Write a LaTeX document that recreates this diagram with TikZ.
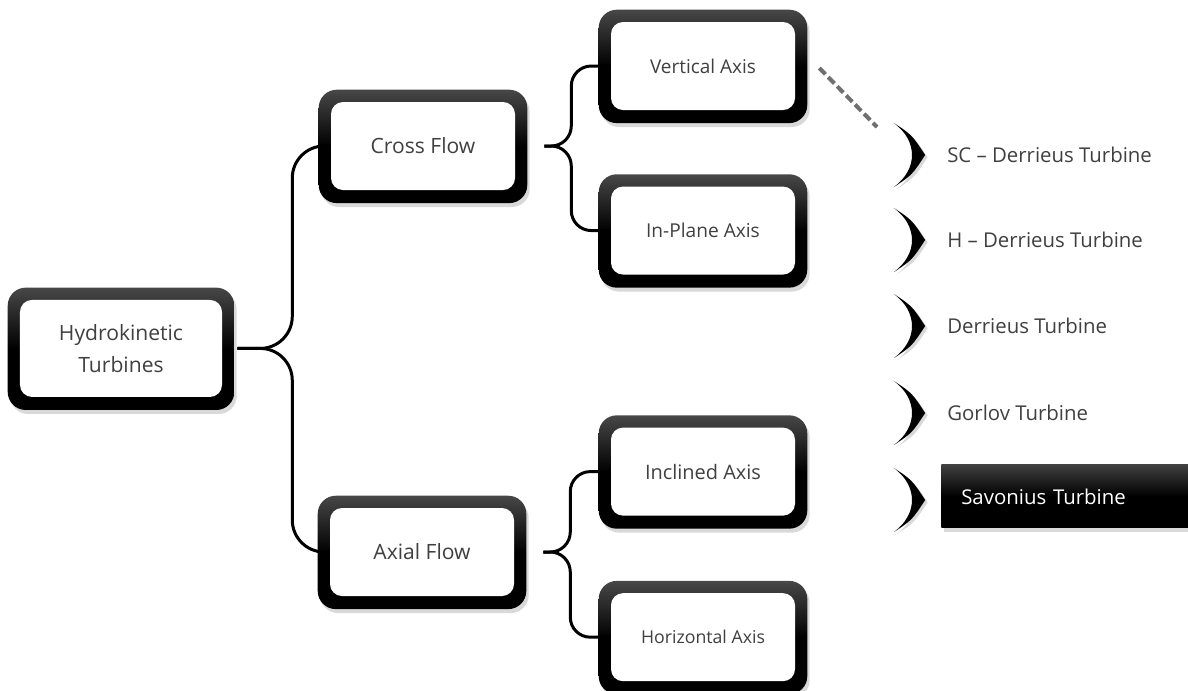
\documentclass[tikz,border=0pt]{standalone}
\usepackage{fontspec}
\setmainfont{Open Sans}
\usetikzlibrary{positioning, calc, shadows, backgrounds}
\definecolor{abuTeks}{RGB}{64,64,64}
\definecolor{abuPutus}{RGB}{112,112,112}

\begin{document}
\begin{tikzpicture}[
  kotakTurbin/.style={fill=white, rounded corners=0.3cm, minimum width=4.6cm,
    minimum height=2.2cm, inner sep=0pt, align=center, text=abuTeks},
  bingkai/.style={rounded corners=0.45cm, top color=black!72, bottom color=black,
    middle color=black, drop shadow={opacity=0.3, shadow xshift=0.06cm, shadow yshift=-0.1cm}},
  kurung/.style={draw, line width=0.075cm},
  garisPutus/.style={draw=abuPutus, line width=0.1cm, dash pattern=on 0.22cm off 0.1cm},
  jenis/.style={anchor=west, inner sep=0pt, text=abuTeks, font=\fontsize{14.5}{17}\selectfont},
  chevron/.pic={
    \fill[black, drop shadow={opacity=0.3, shadow xshift=0.06cm, shadow yshift=-0.06cm}]
      (0,0.8) .. controls (0.45,0.5) .. (0.78,0)
      .. controls (0.45,-0.5) .. (0,-0.8)
      .. controls (0.6,-0.35) and (0.6,0.35) .. cycle;
  }
]
  \useasboundingbox (0,0) rectangle (29.7,-17.25);

  \node[kotakTurbin, minimum width=5.05cm, minimum height=2.425cm,
    font=\fontsize{15}{23}\selectfont] (hkt) at (3.025,-8.71) {Hydrokinetic\\Turbines};
  \node[kotakTurbin, font=\fontsize{15}{18}\selectfont] (cf) at (10.575,-3.65) {Cross Flow};
  \node[kotakTurbin, font=\fontsize{15}{18}\selectfont] (af) at (10.55,-13.8) {Axial Flow};
  \node[kotakTurbin, font=\fontsize{13.5}{16}\selectfont] (va) at (17.575,-1.65) {Vertical Axis};
  \node[kotakTurbin, font=\fontsize{13.6}{16}\selectfont, below=1.9cm of va] (ipa) {In-Plane Axis};
  \node[kotakTurbin, font=\fontsize{14.2}{17}\selectfont] (ia) at (17.575,-11.79) {Inclined Axis};
  \node[kotakTurbin, font=\fontsize{12.6}{15}\selectfont, below=1.925cm of ia] (ha) {Horizontal Axis};

  \begin{scope}[on background layer]
    \foreach \n in {hkt,cf,af,va,ipa,ia,ha}
      \shade[bingkai] ([shift={(-0.3cm,-0.32cm)}]\n.south west) rectangle ([shift={(0.3cm,0.3cm)}]\n.north east);
  \end{scope}

  \draw[kurung, rounded corners=0.8cm] (cf.west) -| ([xshift=1.75cm]hkt.east) -- ([xshift=0.375cm]hkt.east);
  \draw[kurung, rounded corners=0.8cm] (af.west) -| ([xshift=1.75cm]hkt.east) -- ([xshift=0.375cm]hkt.east);
  \draw[kurung, rounded corners=0.5cm] (va.west) -| ([xshift=1.4cm]cf.east) -- ([xshift=0.725cm]cf.east);
  \draw[kurung, rounded corners=0.5cm] (ipa.west) -| ([xshift=1.4cm]cf.east) -- ([xshift=0.725cm]cf.east);
  \draw[kurung, rounded corners=0.5cm] (ia.west) -| ([xshift=1.4cm]af.east) -- ([xshift=0.725cm]af.east);
  \draw[kurung, rounded corners=0.5cm] (ha.west) -| ([xshift=1.4cm]af.east) -- ([xshift=0.725cm]af.east);

  \coordinate (ujungPutus) at (21.925,-3.175);
  \draw[garisPutus] ([xshift=0.6cm,yshift=-0.05cm]va.east) -- (ujungPutus);

  \foreach \y/\nama [count=\i] in {-3.875/SC -- Derrieus Turbine, -6.0/H -- Derrieus Turbine,
      -8.15/Derrieus Turbine, -10.325/Gorlov Turbine}
  {
    \pic at (22.35,\y) {chevron};
    \node[jenis] (t\i) at (23.675,\y) {\nama};
  }
  \pic at (22.35,-12.5) {chevron};
  \node[jenis, text=white, top color=black!75, bottom color=black, middle color=black,
    minimum height=1.575cm, text width=5.175cm, inner xsep=0.5cm,
    drop shadow={opacity=0.3, shadow xshift=0.06cm, shadow yshift=-0.1cm}] (t5) at (23.525,-12.41) {Savonius Turbine};
\end{tikzpicture}
\end{document}
